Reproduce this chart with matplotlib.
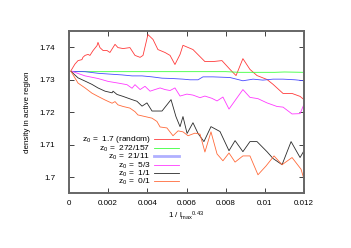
import matplotlib
matplotlib.use("Agg")
import matplotlib.pyplot as plt

plt.rcParams["font.family"] = ["Liberation Sans", "DejaVu Sans"]
plt.rcParams["mathtext.fontset"] = "custom"
plt.rcParams["mathtext.rm"] = "Liberation Sans"
plt.rcParams["mathtext.it"] = "Liberation Sans"
plt.rcParams["mathtext.default"] = "regular"
plt.rcParams["font.size"] = 5.8

# data
x_random = [0.0001, 0.0003, 0.00046, 0.00066, 0.00071, 0.00082, 0.00097, 0.00107,
            0.00123, 0.00143, 0.00148, 0.00158, 0.00174, 0.00194, 0.00209, 0.00235,
            0.0025, 0.00276, 0.00311, 0.00337, 0.00363, 0.00378, 0.00403, 0.00429,
            0.00454, 0.0049, 0.00516, 0.00541, 0.00567, 0.00582, 0.00633, 0.00694,
            0.00735, 0.00781, 0.00822, 0.00853, 0.00888, 0.00924, 0.0096, 0.01011,
            0.01042, 0.01093, 0.01139, 0.0118, 0.012]
y_random = [1.7328, 1.7348, 1.7359, 1.7362, 1.7369, 1.7375, 1.7378, 1.7375,
            1.7390, 1.7405, 1.7415, 1.7399, 1.7390, 1.7390, 1.7384, 1.7409,
            1.7399, 1.7396, 1.7399, 1.7375, 1.7369, 1.7375, 1.7439, 1.7424,
            1.7393, 1.7384, 1.7375, 1.7347, 1.7378, 1.7406, 1.7393, 1.7356,
            1.7356, 1.7359, 1.7332, 1.7313, 1.7365, 1.7332, 1.7313, 1.7301,
            1.7286, 1.7258, 1.7258, 1.7249, 1.7239]

x_272 = [0.0001, 0.002, 0.004, 0.006, 0.008, 0.0087, 0.0095, 0.0105, 0.011, 0.012]
y_272 = [1.7325, 1.7325, 1.7325, 1.7325, 1.7325, 1.7323, 1.7323, 1.7323, 1.7324, 1.7323]

x_21 = [0.00015, 0.00082, 0.00148, 0.0022, 0.00271, 0.00322, 0.00373, 0.00424,
        0.00475, 0.00526, 0.00582, 0.00618, 0.00659, 0.00684, 0.00735, 0.00822,
        0.00888, 0.0094, 0.0099, 0.01042, 0.01093, 0.01154, 0.012]
y_21 = [1.7326, 1.7325, 1.7320, 1.7317, 1.7315, 1.7312, 1.7312, 1.7309,
        1.7305, 1.7304, 1.7302, 1.7300, 1.7300, 1.7309, 1.7309, 1.7307,
        1.7297, 1.7302, 1.7299, 1.7302, 1.7302, 1.7300, 1.7297]

x_53 = [0.00015, 0.00082, 0.00148, 0.002, 0.0025, 0.00296, 0.00322, 0.00337,
        0.00363, 0.00388, 0.00414, 0.00439, 0.00465, 0.0049, 0.00516, 0.00541,
        0.00567, 0.00602, 0.00633, 0.00669, 0.00694, 0.0073, 0.00756, 0.00786,
        0.00817, 0.00888, 0.00924, 0.00965, 0.01011, 0.01062, 0.01093, 0.01139,
        0.0118, 0.012]
y_53 = [1.7326, 1.7312, 1.7304, 1.7295, 1.7290, 1.7285, 1.7274, 1.7285,
        1.7270, 1.7280, 1.7265, 1.7270, 1.7275, 1.7270, 1.7267, 1.7275,
        1.7250, 1.7256, 1.7253, 1.7245, 1.7250, 1.7243, 1.7235, 1.7247,
        1.7210, 1.7270, 1.7246, 1.7242, 1.7229, 1.7218, 1.7216, 1.7195,
        1.7196, 1.7225]

x_11 = [0.0001, 0.00046, 0.00082, 0.00117, 0.00148, 0.00184, 0.0022, 0.00225,
        0.00245, 0.00276, 0.00322, 0.00347, 0.00373, 0.00398, 0.00424, 0.00475,
        0.00521, 0.00546, 0.00567, 0.00582, 0.00603, 0.00633, 0.00659, 0.00689,
        0.00725, 0.00771, 0.00817, 0.00848, 0.00888, 0.00924, 0.0096, 0.01011,
        0.01042, 0.01088, 0.01134, 0.0118, 0.012]
y_11 = [1.7326, 1.7306, 1.7296, 1.7286, 1.7275, 1.7265, 1.7260, 1.7265,
        1.7255, 1.7249, 1.7239, 1.7234, 1.7219, 1.7229, 1.7204, 1.7204,
        1.7239, 1.7187, 1.7156, 1.7187, 1.7135, 1.7168, 1.7135, 1.7110,
        1.7156, 1.7141, 1.7082, 1.7113, 1.7079, 1.7110, 1.7110, 1.7079,
        1.7058, 1.7039, 1.7110, 1.7061, 1.7082]

x_01 = [0.0001, 0.00046, 0.00082, 0.00117, 0.00148, 0.00184, 0.0022, 0.00235,
        0.0025, 0.00276, 0.00311, 0.00337, 0.00352, 0.00388, 0.00424, 0.00449,
        0.00465, 0.005, 0.00531, 0.00557, 0.00582, 0.00608, 0.00643, 0.00669,
        0.00694, 0.00725, 0.00756, 0.00786, 0.00817, 0.00848, 0.00888, 0.00924,
        0.00965, 0.01006, 0.01047, 0.01088, 0.01139, 0.01185, 0.012]
y_01 = [1.7326, 1.7290, 1.7275, 1.7259, 1.7249, 1.7238, 1.7228, 1.7233,
        1.7223, 1.7218, 1.7213, 1.7202, 1.7192, 1.7187, 1.7182, 1.7172,
        1.7155, 1.7152, 1.7128, 1.7143, 1.7140, 1.7128, 1.7136, 1.7133,
        1.7078, 1.7140, 1.7072, 1.7051, 1.7075, 1.7047, 1.7066, 1.7066,
        1.7008, 1.7035, 1.7066, 1.7039, 1.7061, 1.7025, 1.6994]

labels = ["z$_0$ =  1.7 (random)", "z$_0$ =  272/157", "z$_0$ =  21/11",
          "z$_0$ =  5/3", "z$_0$ =  1/1", "z$_0$ =  0/1"]
colors = ["#ff3a3a", "#3aff3a", "#4a4aff", "#ff3aff", "#2a2a2a", "#ff6a3a"]
xticks = [0, 0.002, 0.004, 0.006, 0.008, 0.01, 0.012]
xticklabels = ["0", "0.002", "0.004", "0.006", "0.008", "0.01", "0.012"]
yticks = [1.70, 1.71, 1.72, 1.73, 1.74]
yticklabels = ["1.7", "1.71", "1.72", "1.73", "1.74"]

series = [(x_random, y_random), (x_272, y_272), (x_21, y_21),
          (x_53, y_53), (x_11, y_11), (x_01, y_01)]

fig = plt.figure(figsize=(3.51, 2.48), dpi=100)
ax = fig.add_axes([69 / 351, 1 - 193 / 248, 235 / 351, 162 / 248])

for (xs, ys), lab, c in zip(series, labels, colors):
    ax.plot(xs, ys, color=c, lw=0.6, label=lab)

ax.set_xlim(0, 0.012)
ax.set_ylim(1.6952, 1.745)
ax.set_xticks(xticks)
ax.set_xticklabels(xticklabels)
ax.set_yticks(yticks)
ax.set_yticklabels(yticklabels)
ax.tick_params(direction="in", top=True, right=True, length=3.5, width=0.6,
               color="#222222")
ax.tick_params(axis="x", pad=5)
ax.tick_params(axis="y", pad=10)
for s in ax.spines.values():
    s.set_color("#666666")
    s.set_linewidth(1.4)

ax.set_xlabel(r"1 / l$_{max}$$^{0.43}$", labelpad=2)
ax.set_ylabel("density in active region", labelpad=6)

leg = ax.legend(loc="lower right", bbox_to_anchor=(0.468, 0.035), frameon=False,
                markerfirst=False, borderpad=0, borderaxespad=0,
                handlelength=3.0, handletextpad=0.4, labelspacing=-0.22,
                handleheight=0.5, fontsize=6.0)
leg.get_lines()[2].set_linewidth(2.0)
leg.get_lines()[2].set_color("#b0b0ff")

fig.savefig("out.png", dpi=100)
